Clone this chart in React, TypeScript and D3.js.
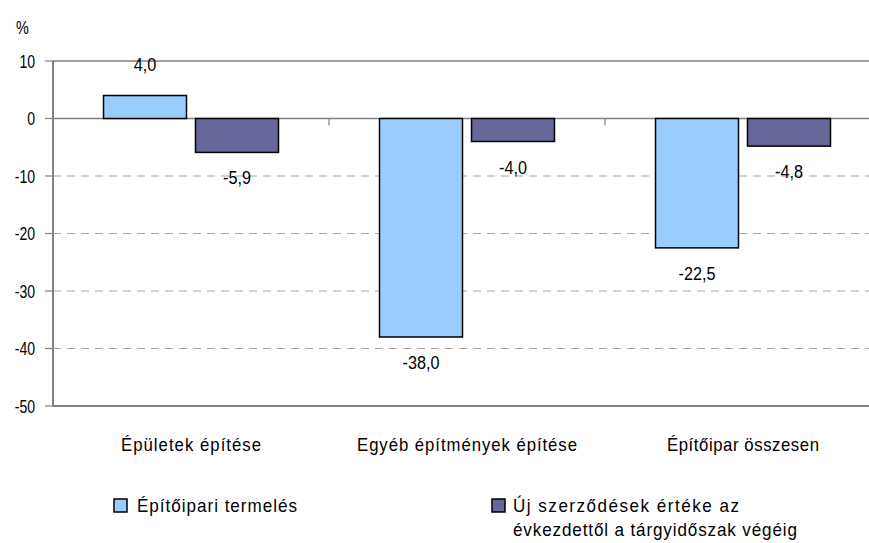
import * as d3 from 'd3'

const CATEGORIES = ['Épületek építése', 'Egyéb építmények építése', 'Építőipar összesen']
const SERIES = ['Építőipari termelés', 'Új szerződések értéke az évkezdettől a tárgyidőszak végéig']
const PRODUCTION = [4.0, -38.0, -22.5]
const NEW_CONTRACTS = [-5.9, -4.0, -4.8]
const Y_TICKS = [10, 0, -10, -20, -30, -40, -50]

const COLORS = ['#99CCFF', '#666699']
const W = 869
const H = 543
const FONT = '"Liberation Sans", Arial, sans-serif'

// narrow-looking text: tall glyphs squeezed horizontally, optional fixed length
function Label({ x, y, anchor = 'start', sx = 0.85, len, children }: any) {
  return (
    <g transform={`translate(${x},${y}) scale(${sx},1)`}>
      <text textAnchor={anchor} fill="#000"
        textLength={len ? len / sx : undefined}
        lengthAdjust={len ? 'spacing' : undefined}>{children}</text>
    </g>
  )
}

export default function App() {
  const left = 53
  const right = 881
  const y = d3.scaleLinear().domain([-50, 10]).range([406, 61])
  const x = d3.scaleBand<string>().domain(CATEGORIES).range([left, right]).padding(0)
  const inner = d3.scaleBand<number>().domain([0, 1]).range([0, x.bandwidth()])
    .paddingInner(0.098).paddingOuter(0.549)
  const values = [PRODUCTION, NEW_CONTRACTS]
  const fmt = (v: number) => v.toFixed(1).replace('.', ',')
  const catWidths = [140, 220, 152]

  return (
    <svg width={W} height={H} style={{ position: 'absolute', left: 0, top: 0, background: '#fff' }}
      fontFamily={FONT} fontSize={18}>
      <Label x={16} y={34} sx={0.8}>%</Label>

      {/* gridlines */}
      {Y_TICKS.map(t => {
        const solid = t === 10 || t === 0
        if (t === -50) return null
        return (
          <line key={t} x1={left} x2={W} y1={y(t)} y2={y(t)}
            stroke={solid ? '#808080' : '#a6a6a6'} strokeWidth={solid ? 1.5 : 1.2}
            strokeDasharray={solid ? undefined : '8,6'} />
        )
      })}

      {/* y axis ticks and labels */}
      {Y_TICKS.map(t => (
        <g key={'t' + t}>
          <line x1={45} x2={left} y1={y(t)} y2={y(t)} stroke="#808080" strokeWidth={1.2} />
          <Label x={35} y={y(t) + 6.5} anchor="end" sx={0.78}>{t}</Label>
        </g>
      ))}

      {/* bars */}
      {CATEGORIES.map((c, ci) => (
        <g key={c} transform={`translate(${x(c)},0)`}>
          {values.map((vals, si) => {
            const v = vals[ci]
            const y0 = y(Math.max(0, v))
            const y1 = y(Math.min(0, v))
            const bx = inner(si)!
            const bw = inner.bandwidth()
            return (
              <g key={si}>
                <rect x={bx} y={y0} width={bw} height={y1 - y0}
                  fill={COLORS[si]} stroke="#000" strokeWidth={1.5} />
                <Label x={bx + bw / 2} y={v >= 0 ? y0 - 25 : y1 + 32} anchor="middle" sx={0.9}>
                  {fmt(v)}
                </Label>
              </g>
            )
          })}
        </g>
      ))}

      {/* category boundary ticks on zero line */}
      {CATEGORIES.map(c => (
        <line key={'b' + c} x1={x(c)! + x.bandwidth()} x2={x(c)! + x.bandwidth()}
          y1={y(0)} y2={y(0) + 7} stroke="#808080" strokeWidth={1.2} />
      ))}

      {/* axes */}
      <line x1={left} x2={left} y1={y(10)} y2={y(-50)} stroke="#808080" strokeWidth={2} />
      <line x1={left} x2={W} y1={y(-50)} y2={y(-50)} stroke="#808080" strokeWidth={2} />

      {/* category labels */}
      {CATEGORIES.map((c, i) => (
        <Label key={'l' + c} x={x(c)! + x.bandwidth() / 2} y={451} anchor="middle" sx={0.93} len={catWidths[i]}>{c}</Label>
      ))}

      {/* legend */}
      <rect x={114} y={499} width={13} height={13} fill={COLORS[0]} stroke="#000" strokeWidth={1.5} />
      <Label x={137} y={512} sx={0.95} len={160}>{SERIES[0]}</Label>
      <rect x={492} y={499} width={13} height={13} fill={COLORS[1]} stroke="#000" strokeWidth={1.5} />
      <Label x={513} y={512} sx={0.95} len={226}>Új szerződések értéke az</Label>
      <Label x={513} y={536} sx={0.95} len={284}>évkezdettől a tárgyidőszak végéig</Label>
    </svg>
  )
}
